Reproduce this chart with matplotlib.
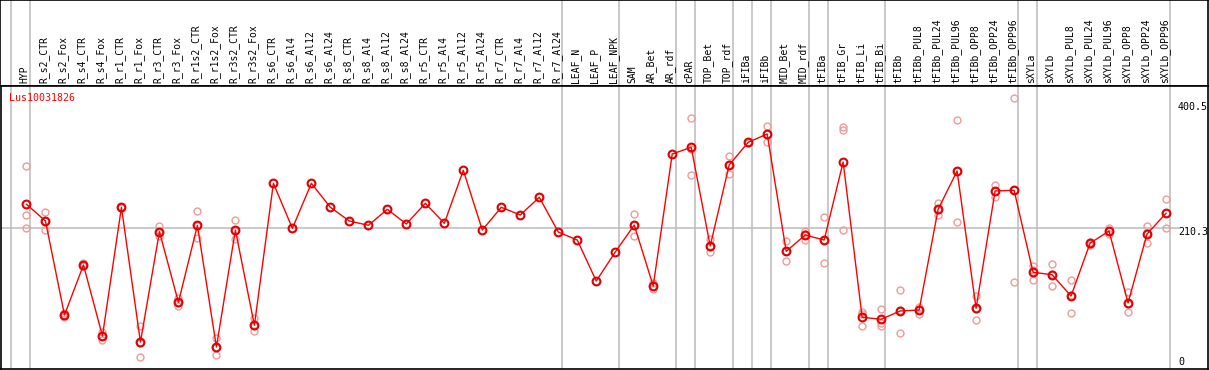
import matplotlib
matplotlib.use('Agg')
import matplotlib.pyplot as plt

samples = ['HYP', 'R_s2_CTR', 'R_s2_Fox', 'R_s4_CTR', 'R_s4_Fox', 'R_r1_CTR', 'R_r1_Fox',
           'R_r3_CTR', 'R_r3_Fox', 'R_r1s2_CTR', 'R_r1s2_Fox', 'R_r3s2_CTR', 'R_r3s2_Fox',
           'R_s6_CTR', 'R_s6_Al4', 'R_s6_Al12', 'R_s6_Al24', 'R_s8_CTR', 'R_s8_Al4',
           'R_s8_Al12', 'R_s8_Al24', 'R_r5_CTR', 'R_r5_Al4', 'R_r5_Al12', 'R_r5_Al24',
           'R_r7_CTR', 'R_r7_Al4', 'R_r7_Al12', 'R_r7_Al24', 'LEAF_N', 'LEAF_P', 'LEAF_NPK',
           'SAM', 'AR_Bet', 'AR_rdf', 'cPAR', 'TOP_Bet', 'TOP_rdf', 'iFIBa', 'iFIBb',
           'MID_Bet', 'MID_rdf', 'tFIBa', 'tFIB_Gr', 'tFIB_Li', 'tFIB_Bi', 'tFIBb',
           'tFIBb_PUL8', 'tFIBb_PUL24', 'tFIBb_PUL96', 'tFIBb_OPP8', 'tFIBb_OPP24',
           'tFIBb_OPP96', 'sXYLa', 'sXYLb', 'sXYLb_PUL8', 'sXYLb_PUL24', 'sXYLb_PUL96',
           'sXYLb_OPP8', 'sXYLb_OPP24', 'sXYLb_OPP96']

# mean expression per sample
means = [246.7, 221.2, 78.2, 154.3, 46.3, 242.1, 37.1, 205.0, 97.5, 214.7, 29.5, 207.5, 62.5,
         278.6, 210.1, 278.6, 242.1, 221.2, 214.7, 239.0, 216.7, 248.2, 217.7, 298.4, 207.5,
         242.1, 230.4, 257.3, 204.5, 192.3, 129.9, 174.0,
         215.1, 122.3, 323.2, 333.4, 183.2, 306.5, 341.0, 353.6, 175.1, 199.9, 192.3,
         311.0, 74.7, 71.7, 84.3, 85.8, 239.0, 297.3, 88.4, 266.9, 268.0,
         143.2, 139.5, 107.1, 187.5, 206.0, 96.5, 201.5, 233.0]

# individual replicates (empty where only one value exists)
replicates = [
    [304.9, 229.9, 210.1], [234.9, 207.5, 221.0], [75.6, 80.5, 78.0], [156.9, 153.5, 152.8],
    [52.8, 40.2, 46.0], [243.0, 242.0, 241.0], [61.5, 13.8, 36.0], [213.6, 198.4, 203.0],
    [103.6, 91.9, 97.0], [236.0, 194.9, 213.0], [42.8, 16.9, 29.0], [222.8, 193.4, 206.0],
    [73.2, 53.4, 61.0],
    [], [], [], [], [], [], [], [], [], [], [], [], [], [], [], [], [], [], [],
    [231.4, 198.4, 215.0], [126.4, 117.3, 123.0], [], [378.0, 290.8, 331.0],
    [193.4, 174.5, 182.0], [320.1, 292.3, 307.0], [342.0, 340.0, 341.0], [365.8, 341.0, 354.0],
    [190.4, 159.9, 175.0], [206.5, 192.3, 201.0], [227.3, 157.3, 192.0],
    [363.8, 359.7, 207.1], [83.2, 61.9, 79.0], [87.3, 61.9, 66.0], [116.3, 50.4, 86.0],
    [90.8, 79.3, 87.0], [249.1, 229.9, 238.0], [374.5, 219.3, 298.0], [107.1, 70.6, 88.0],
    [276.0, 257.3, 267.0], [407.9, 128.0, 268.0],
    [152.8, 131.0, 146.0], [155.8, 122.3, 140.0], [131.5, 80.8, 109.0], [189.0, 184.5, 187.5],
    [210.1, 201.5, 206.0], [112.7, 82.3, 95.0], [213.6, 187.3, 203.0], [254.7, 210.1, 234.0]]

# grey separators are drawn just after these sample indices
group_ends = [-1, 0, 28, 31, 34, 35, 37, 38, 39, 41, 42, 45, 52, 53, 60]
gene = 'Lus10031826'
ref_values = [400.5, 210.3]

W, H = 1209, 370
fig = plt.figure(figsize=(W / 100, H / 100), dpi=100)
mono = 'DejaVu Sans Mono'

# pixel geometry: sample i sits at x = 26 + 19 i
x_lo, x_hi = -26 / 19, (1208 - 26) / 19
head_px, bottom_px = 86, 369
px_per_unit, zero_px = 0.6572, 366.4
y_lo = (zero_px - bottom_px) / px_per_unit
y_hi = (zero_px - head_px) / px_per_unit

head = fig.add_axes([0, 1 - head_px / H, 1208 / W, head_px / H])
ax = fig.add_axes([0.5 / W, 1 - bottom_px / H, 1207.5 / W, (bottom_px - head_px) / H])

for a in (head, ax):
    a.set_xlim(x_lo, x_hi)
    a.set_xticks([])
    a.set_yticks([])
    for s in a.spines.values():
        s.set_color('black')
        s.set_linewidth(1.2)
    for g in group_ends:
        a.axvline(g + 0.21, color='#c0c0c0', lw=1.2, zorder=0)

head.set_ylim(0, 1)
for i, name in enumerate(samples):
    head.text(i - 0.08, 0.03, name, rotation=90, ha='center', va='bottom',
              fontsize=7, family=mono)

ax.set_ylim(y_lo, y_hi)
ax.plot([x_lo, 60.66], [210.3, 210.3], color='#c0c0c0', lw=1.2, zorder=0)

for i, reps in enumerate(replicates):
    if reps:
        ax.plot([i] * len(reps), reps, 'o', ms=5, mfc='none', mec='#ef9a9a', mew=1.0, zorder=2)

ax.plot(range(len(means)), means, color='red', lw=1.0, zorder=3)
ax.plot(range(len(means)), means, 'o', ms=5.6, mfc='none', mec='#e00000', mew=1.5, zorder=4)

ax.text(-17 / 19, 426.7 - 12 / px_per_unit, gene, color='red',
        fontsize=7.2, family=mono, ha='left', va='center')

for v in ref_values:
    ax.annotate(f'{v}', xy=(60.63, v), xytext=(0, -3.5), textcoords='offset pixels',
                ha='left', va='center', fontsize=7.2, family=mono)
ax.annotate('0', xy=(60.63, 0), xytext=(0, 4.7), textcoords='offset pixels',
            ha='left', va='center', fontsize=7.2, family=mono)

fig.savefig('out.png', dpi=100)
